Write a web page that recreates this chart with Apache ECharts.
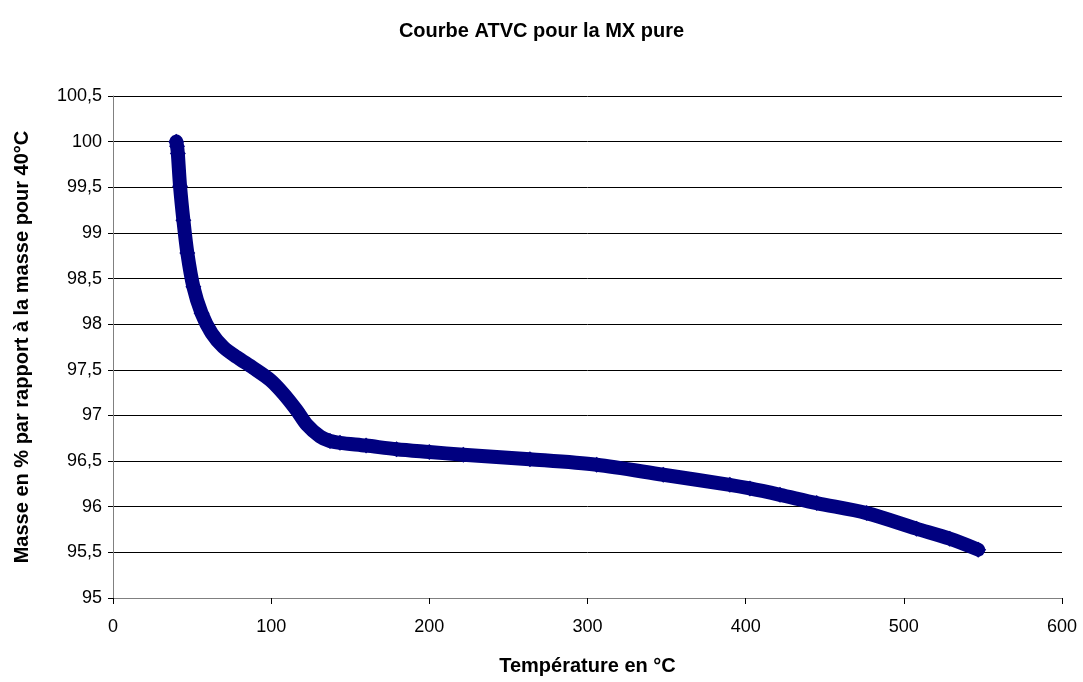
<!DOCTYPE html>
<html>
<head>
<meta charset="utf-8">
<script src="https://cdn.jsdelivr.net/npm/echarts@6/dist/echarts.min.js"></script>
<style>
  html, body { margin: 0; padding: 0; background: #fff; }
  #chart { width: 1083px; height: 682px; }
</style>
</head>
<body>
<div id="chart"></div>
<script>
// temperature (°C) and mass (% of mass at 40°C)
var temps = [40, 40.5, 41, 42.4, 44.5, 47, 50.8, 56, 62.4, 69.7, 78.2, 88.7, 99.3, 107.7, 116,
  122.5, 130.9, 137.2, 143.5, 160, 179.3, 200, 221.5, 263.6, 305.8, 347.9, 390, 402.7, 421.7,
  444.9, 476.5, 508, 529, 547];
var masses = [100, 99.95, 99.87, 99.51, 99.14, 98.78, 98.41, 98.12, 97.9, 97.75, 97.64, 97.52, 97.39, 97.24, 97.06,
  96.9, 96.77, 96.72, 96.7, 96.67, 96.63, 96.6, 96.57, 96.52, 96.46, 96.35, 96.24, 96.2, 96.13,
  96.04, 95.93, 95.76, 95.65, 95.53];

var points = [];
for (var i = 0; i < temps.length; i++) {
  points.push([temps[i], masses[i]]);
}

var myChart = echarts.init(document.getElementById('chart'));
var fontFam = '"Liberation Sans", Arial, sans-serif';

var option = {
  backgroundColor: '#fff',
  animation: false,
  title: {
    text: 'Courbe ATVC pour la MX pure',
    left: 'center',
    top: 16,
    textStyle: { fontFamily: fontFam, fontSize: 20, fontWeight: 'bold', color: '#000' }
  },
  grid: { left: 113, right: 21, top: 96, bottom: 84, outerBoundsMode: 'none', containLabel: false },
  xAxis: {
    type: 'value',
    min: 0, max: 600, interval: 100,
    name: 'Température en °C',
    nameLocation: 'middle',
    nameGap: 58,
    nameTextStyle: { fontFamily: fontFam, fontSize: 20, fontWeight: 'bold', color: '#000' },
    axisLine: { onZero: false, lineStyle: { color: '#808080', width: 1 } },
    axisTick: { show: true, inside: false, length: 6, lineStyle: { color: '#000' } },
    axisLabel: { fontFamily: fontFam, fontSize: 18, color: '#000', margin: 20 },
    splitLine: { show: false }
  },
  yAxis: {
    type: 'value',
    min: 95, max: 100.5, interval: 0.5,
    name: 'Masse en % par rapport à la masse pour 40°C',
    nameLocation: 'middle',
    nameGap: 81,
    nameTextStyle: { fontFamily: fontFam, fontSize: 20, fontWeight: 'bold', color: '#000' },
    axisLine: { show: true, lineStyle: { color: '#808080', width: 1 } },
    axisTick: { show: true, inside: false, length: 5, lineStyle: { color: '#000' } },
    axisLabel: {
      fontFamily: fontFam, fontSize: 18, color: '#000', margin: 11,
      formatter: function (v) { return String(Math.round(v * 10) / 10).replace('.', ','); }
    },
    splitLine: { show: true, lineStyle: { color: '#000', width: 1 } }
  },
  series: [
    {
      type: 'line',
      data: points,
      smooth: 0.3,
      color: '#000080',
      lineStyle: { color: '#000080', width: 14, cap: 'round', join: 'round' },
      symbol: 'diamond',
      symbolSize: 16,
      showSymbol: true,
      itemStyle: { color: '#000080' }
    }
  ]
};
myChart.setOption(option);
</script>
</body>
</html>
